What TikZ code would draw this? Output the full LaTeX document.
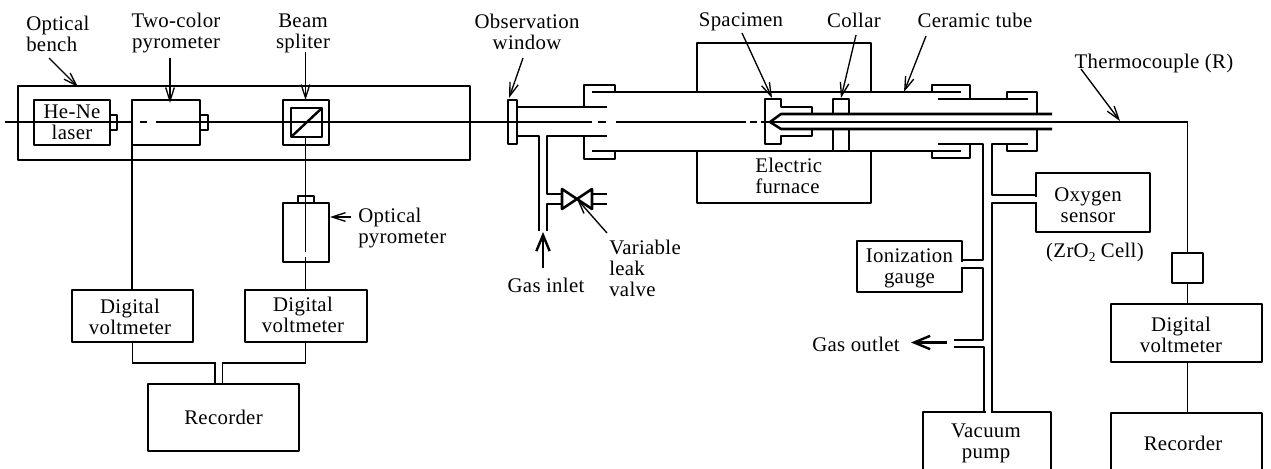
\documentclass[tikz,border=0pt]{standalone}
\usepackage{fontspec}
\setmainfont[LetterSpace=1.5]{Liberation Serif}
\usetikzlibrary{arrows.meta}
\tikzset{
  x=0.75pt,y=-0.75pt,
  thick line/.style={line width=1.8pt,line join=round},
  thin line/.style={line width=0.85pt},
  pipe/.style={line width=1.9pt,line join=round},
  pointer/.style={line width=1pt,-{Straight Barb[length=10pt,width=6.5pt,line width=1pt]}},
  heavy pointer/.style={line width=1.8pt,-{Straight Barb[length=12pt,width=10pt,line width=1.8pt]}},
  lab/.style={font=\fontsize{15.6}{15.7}\selectfont,align=center,inner sep=0pt,text depth=0pt},
  labl/.style={lab,align=left,anchor=west},
}
\newcommand{\pxbox}[6]{%
  \pgfmathsetmacro{\bw}{(#4-#2)*0.75}\pgfmathsetmacro{\bh}{(#5-#3)*0.75}%
  \node[draw,thick line,lab,minimum width=\bw pt,minimum height=\bh pt,outer sep=0pt] (#1) at ({(#2+#4)/2},{(#3+#5)/2}) {#6};}
\begin{document}
\begin{tikzpicture}
\useasboundingbox (0,0) rectangle (1271,468);
% left optical bench
\pxbox{bench}{18}{86}{470}{160}{}
\pxbox{laser}{34}{100}{110}{145}{He-Ne\\laser}
\pxbox{laserNub}{110}{115}{117}{130}{}
\pxbox{twocolor}{132}{100}{200}{145}{}
\pxbox{twocolorNub}{200}{115}{208}{130}{}
\pxbox{splitter}{283}{100}{329}{145}{}
\pxbox{cube}{291}{108}{322}{137}{}
\draw[thick line] (cube.south west) -- (cube.north east);
\pxbox{optpyro}{283}{203}{329}{262}{}
\pxbox{optpyroNub}{298}{196}{314}{203}{}
\pxbox{dvA}{72}{290}{193}{342}{}
\node[lab] (dvAt) at (130,317) {Digital\\voltmeter};
\pxbox{dvB}{245}{290}{367}{342}{}
\node[lab] (dvBt) at (303,315) {Digital\\voltmeter};
\pxbox{recA}{148}{384}{299}{451}{Recorder}
% beam axis
\coordinate (beamstart) at (5,122);
\coordinate (tip) at (770,122);
\draw[thin line] (beamstart) -- (131,122) (140,122)--(147,122) (156,122) -- (592,122)
 (598,122)--(606,122) (616,122)--(746,122) (750,122)--(757,122) (761,122)--(tip);
% wires
\draw[thin line] (twocolor.south west) -- (twocolor.south west |- dvA.north);
\draw[thin line] (305.5,137) -- (305.5,252) (305.5,257) -- (305.5,290);
\draw[thin line] (132.5,342) -- (132.5,363) -- (215,363) -- (215,384);
\draw[thin line] (305.5,342) -- (305.5,363) -- (222.5,363) -- (222.5,384);
% labels left
\coordinate (lbA) at (49,58); \coordinate (lbB) at (78,87);
\draw[pointer] (lbA) -- (lbB);
\draw[pointer] (170,58) -- (170,103);
\draw[pointer] (305.5,52) -- (305.5,100);
\draw[pointer] (351,217) -- (330,217);
\node[labl] (t1) at (26,34) {Optical\\bench};
\node[lab] (t2) at (176,31) {Two-color\\pyrometer};
\node[lab] (t3) at (303,31) {Beam\\spliter};
\node[labl] (t4) at (358,226) {Optical\\pyrometer};
% window and left tube
\pxbox{window}{508}{100}{517}{144}{}
\node[lab] (t5) at (527,32) {Observation\\window};
\draw[pointer] (523,58) -- (509,98);
\draw[pipe] (517,107) -- (607,107);
\draw[pipe] (517,136) -- (539,136) -- (539,231);
\draw[pipe] (607,136) -- (547,136) -- (547,194) -- (562,194);
\draw[pipe] (562,204) -- (547,204) -- (547,231);
% valve
\draw[pipe] (562,189) -- (592,209) -- (592,189) -- (562,209) -- cycle;
\draw[pipe] (592,194) -- (607,194) (592,204) -- (607,204);
\draw[pointer] (607,233) -- (577,199);
\node[labl] (t6) at (609,268) {Variable\\leak\\valve};
\draw[heavy pointer] (543,268) -- (543,232);
\node[lab] (t7) at (546,285) {Gas inlet};
% main tube
\draw[pipe] (592,92) -- (961,92);
\draw[pipe] (592,151) -- (961,151);
\draw[pipe] (584,107) -- (584,85) -- (615,85) -- (615,92);
\draw[pipe] (584,136) -- (584,159) -- (615,159) -- (615,151);
% furnace
\draw[pipe] (697,92) -- (697,43) -- (871,43) -- (871,92);
\draw[pipe] (697,151) -- (697,203) -- (871,203) -- (871,151);
\node[labl] (t8) at (755,176) {Electric\\furnace};
% specimen and collar
\draw[pipe] (812,114) -- (812,107) -- (781,107) -- (781,99) -- (765,99) -- (765,144) -- (781,144) -- (781,136) -- (812,136) -- (812,129);
\draw[pipe] (833,114) -- (833,99) -- (849,99) -- (849,114);
\draw[pipe] (833,129) -- (833,151) (849,129) -- (849,151);
% inner tube
\draw[pipe] (1052,114) -- (781,114) -- (770,122) -- (781,129) -- (1052,129);
% right flanges
\draw[pipe] (932,92) -- (932,85) -- (970,85) -- (970,99);
\draw[pipe] (932,151) -- (932,158) -- (970,158) -- (970,144);
\draw[pipe] (938,99) -- (1028,99);
\draw[pipe] (938,144) -- (983,144) -- (983,260) -- (962,260);
\draw[pipe] (1028,144) -- (992,144) -- (992,195) -- (1036,195);
\draw[pipe] (1007,99) -- (1007,92) -- (1037,92) -- (1037,114);
\draw[pipe] (1037,129) -- (1037,151) -- (1007,151) -- (1007,144);
% boxes on pipes
\pxbox{oxy}{1036}{173}{1150}{232}{}
\node[lab] (oxyt) at (1088,205) {Oxygen\\sensor};
\pxbox{gauge}{857}{241}{962}{292}{Ionization\\gauge}
\pxbox{pump}{923}{412}{1051}{471}{}
\node[lab] (pumpt) at (986,441) {Vacuum\\pump};
\fill[white] (1034,196.5) rectangle (1038,201.5);
\fill[white] (960,261.5) rectangle (964,266.5);
\fill[white] (985.5,410) rectangle (990.5,414);
\draw[pipe] (1036,203) -- (992,203) -- (992,412);
\draw[pipe] (962,268) -- (983,268) -- (983,340) -- (954,340);
\draw[pipe] (954,347) -- (984,347) -- (984,412);
\draw[heavy pointer] (947,342.5) -- (911,342.5);
\node[lab] (t9) at (856,344) {Gas outlet};
\node[lab] (t10) at (1095,250) {(ZrO\raisebox{-3pt}{\fontsize{10}{10}\selectfont 2} Cell)};
% top labels
\node[lab] (t11) at (741,20) {Spacimen};
\node[lab] (t12) at (854,20) {Collar};
\node[lab] (t13) at (975,20) {Ceramic tube};
\draw[pointer] (742,33) -- (772,98);
\draw[pointer] (856,35) -- (841,98);
\draw[pointer] (926,36) -- (904,92);
% thermocouple
\pxbox{junction}{1172}{253}{1203}{283}{}
\pxbox{dvC}{1111}{304}{1262}{362}{}
\node[lab] (dvCt) at (1181,335) {Digital\\voltmeter};
\pxbox{recB}{1111}{413}{1262}{473}{}
\node[lab] (recBt) at (1183,443) {Recorder};
\draw[thin line] (tip) -- (1187.5,122) -- (junction.north);
\draw[thin line] (junction.south) -- (junction.south |- dvC.north);
\draw[thin line] (junction.south |- dvC.south) -- (junction.south |- recB.north);
\node[lab] (t14) at (1154,61) {Thermocouple (R)};
\draw[pointer] (1081,69) -- (1120,121);
\end{tikzpicture}
\end{document}
